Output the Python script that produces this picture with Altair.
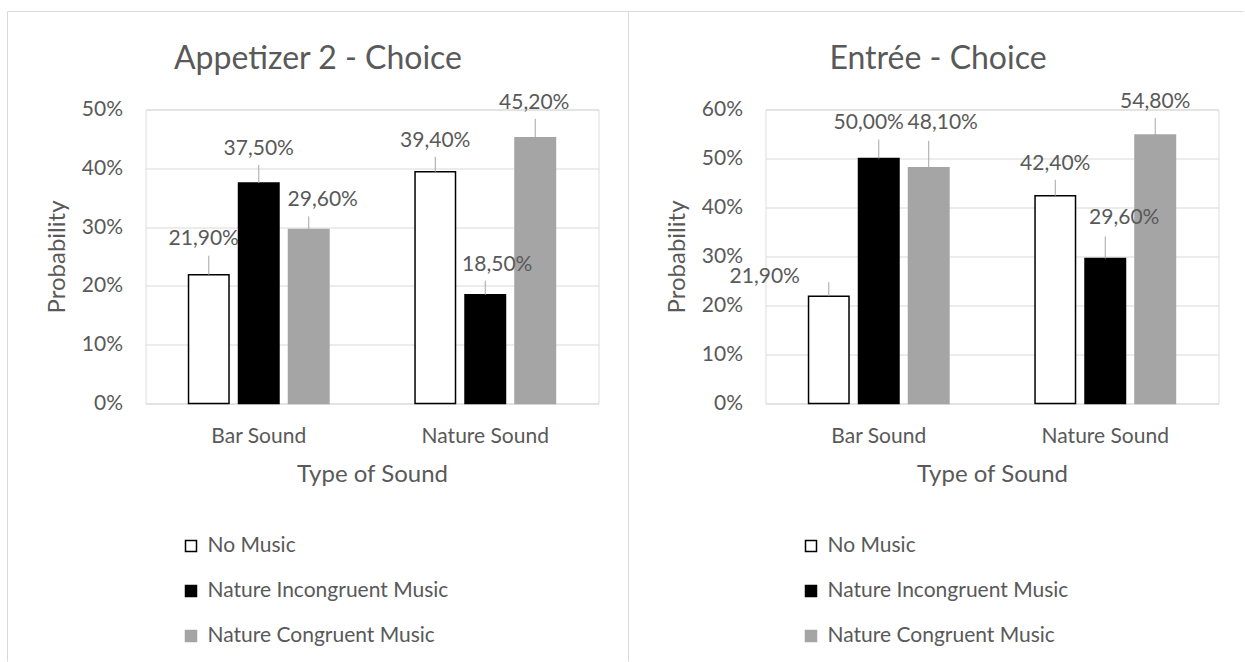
import altair as alt
import pandas as pd

# ---------------- data ----------------
categories = ["Bar Sound", "Nature Sound"]
series = ["No Music", "Nature Incongruent Music", "Nature Congruent Music"]

appetizer_bar = [0.219, 0.375, 0.296]
appetizer_nature = [0.394, 0.185, 0.452]
entree_bar = [0.219, 0.500, 0.481]
entree_nature = [0.424, 0.296, 0.548]

panel_titles = ["Appetizer 2 - Choice", "Entrée - Choice"]
y_max = [0.5, 0.6]

# ---------------- styles ----------------
FONT = "Lato"
TXT = "#595959"
GRID = "#d9d9d9"
fills = ["#ffffff", "#000000", "#a5a5a5"]
strokes = ["#000000", "#000000", "#a5a5a5"]

# data-label placement (dx px, label centre above bar top px, leader length px), per series
label_style = [
    {"Bar Sound": [(-5, 36, 19), (0, 34, 18), (14, 29, 13)],
     "Nature Sound": [(0, 31, 15), (12, 30, 14), (-1, 35, 19)]},
    {"Bar Sound": [(-64, 19, 14), (-10, 36, 19), (14, 45, 27)],
     "Nature Sound": [(0, 32, 16), (19, 40, 22), (0, 33, 17)]},
]

PLOT_W = 453
PLOT_H = 294


def make_panel(i, bar_vals, nat_vals):
    rows = []
    for cat, vals in zip(categories, [bar_vals, nat_vals]):
        for s, v in zip(series, vals):
            rows.append({"sound": cat, "music": s, "value": v})
    df = pd.DataFrame(rows)
    base = alt.Chart(df)

    x_axis = alt.X(
        "sound:N", sort=categories,
        scale=alt.Scale(paddingInner=0.38, paddingOuter=0.19),
        axis=alt.Axis(title="Type of Sound", labelAngle=0, ticks=False, domain=False,
                      labelPadding=22, titlePadding=16, labelFontSize=21, titleFontSize=24,
                      labelColor=TXT, titleColor=TXT, titleFontWeight="normal",
                      labelFont=FONT, titleFont=FONT),
    )
    x_plain = alt.X("sound:N", sort=categories)
    xo = alt.XOffset("music:N", sort=series, scale=alt.Scale(paddingInner=0.19, paddingOuter=0))
    ticks = [round(k * 0.1, 1) for k in range(int(round(y_max[i] * 10)) + 1)]
    y_axis = alt.Y(
        "value:Q",
        scale=alt.Scale(domain=[0, y_max[i]], nice=False),
        axis=alt.Axis(title="Probability", format=".0%", values=ticks, ticks=False, domain=False,
                      grid=True, gridColor=GRID, labelPadding=23, titlePadding=12,
                      labelFontSize=21, titleFontSize=24, labelColor=TXT, titleColor=TXT,
                      titleFontWeight="normal", labelFont=FONT, titleFont=FONT),
    )
    legend = alt.Legend(title=None, orient="none", legendX=35, legendY=426, symbolType="square",
                        symbolSize=121, symbolStrokeWidth=1.5, labelFontSize=21, labelColor=TXT,
                        labelFont=FONT, rowPadding=23, labelOffset=6, padding=0, labelLimit=500)

    bars = base.mark_bar(strokeWidth=1.5).encode(
        x=x_axis, xOffset=xo, y=y_axis,
        fill=alt.Fill("music:N", sort=series, scale=alt.Scale(domain=series, range=fills), legend=legend),
        stroke=alt.Stroke("music:N", sort=series, scale=alt.Scale(domain=series, range=strokes), legend=legend),
    )

    layers = [bars]
    for cat in categories:
        for j, s in enumerate(series):
            dx, gap, lead = label_style[i][cat][j]
            sub = base.transform_filter((alt.datum.sound == cat) & (alt.datum.music == s))
            leader = sub.mark_rule(color="#a6a6a6", strokeWidth=1, y2Offset=-lead).encode(
                x=x_plain, xOffset=xo, y="value:Q", y2="value:Q")
            txt = sub.transform_calculate(
                lbl="replace(format(datum.value * 100, '.2f'), '.', ',') + '%'"
            ).mark_text(dx=dx, dy=-gap, baseline="middle", align="center", fontSize=21,
                        color=TXT, font=FONT).encode(
                x=x_plain, xOffset=xo, y="value:Q", text="lbl:N")
            layers += [leader, txt]

    dummy = alt.Chart(pd.DataFrame({"a": [0]}))
    # panel frame lines
    if i == 0:
        frame = [
            dummy.mark_rule(color=GRID, strokeWidth=1).encode(
                x=alt.value(-138), x2=alt.value(-138), y=alt.value(-98), y2=alt.value(552)),
            dummy.mark_rule(color=GRID, strokeWidth=1).encode(
                x=alt.value(-138), x2=alt.value(483), y=alt.value(-98), y2=alt.value(-98)),
        ]
    else:
        frame = [
            dummy.mark_rule(color=GRID, strokeWidth=1).encode(
                x=alt.value(-137), x2=alt.value(-137), y=alt.value(-98), y2=alt.value(552)),
            dummy.mark_rule(color=GRID, strokeWidth=1).encode(
                x=alt.value(-137), x2=alt.value(478), y=alt.value(-98), y2=alt.value(-98)),
        ]

    return alt.layer(*frame, *layers).properties(
        width=PLOT_W, height=PLOT_H,
        title=alt.TitleParams(panel_titles[i], fontSize=32, font=FONT, color=TXT,
                              fontWeight="normal", anchor="middle", dx=-54, offset=-65),
    )


left = make_panel(0, appetizer_bar, appetizer_nature)
right = make_panel(1, entree_bar, entree_nature)

chart = alt.hconcat(left, right, spacing=167, bounds="flush").resolve_scale(
    fill="independent", stroke="independent", x="independent", y="independent", xOffset="independent"
).resolve_legend(fill="independent", stroke="independent").properties(
    padding={"left": 6.5, "top": 10.5, "right": 0, "bottom": 0}
).configure_view(stroke=None).configure(font=FONT)

chart.save("out.html", embed_options={"renderer": "svg", "actions": False})
